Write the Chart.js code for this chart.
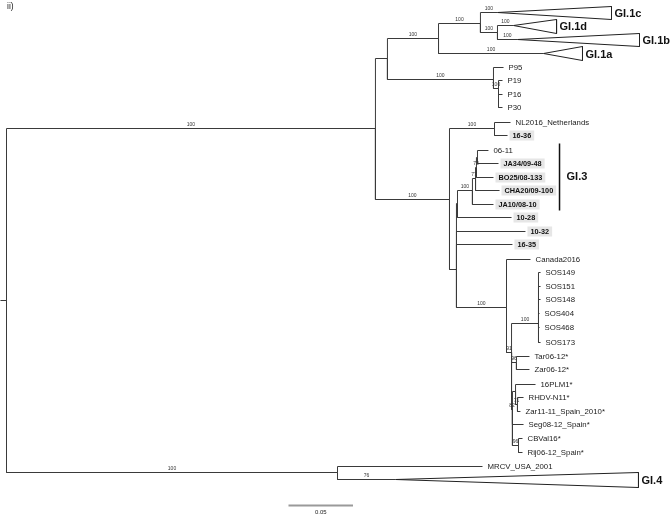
<!DOCTYPE html>
<html>
<head>
<meta charset="utf-8">
<script src="https://cdn.jsdelivr.net/npm/chart.js@4.4.1/dist/chart.umd.min.js"></script>
<style>
  body { margin: 0; background: #fff; }
  canvas { display: block; }
</style>
</head>
<body>
<canvas id="tree" width="670" height="516"></canvas>
<script>
// tips: name, parent node, distance from root (subst./site), row position
const tipNames = ['P95', 'P19', 'P16', 'P30', 'NL2016_Netherlands', '16-36', '06-11', 'JA34/09-48',
    'BO25/08-133', 'CHA20/09-100', 'JA10/08-10', '10-28', '10-32', '16-35', 'Canada2016',
    'SOS149', 'SOS151', 'SOS148', 'SOS404', 'SOS468', 'SOS173', 'Tar06-12*', 'Zar06-12*',
    '16PLM1*', 'RHDV-N11*', 'Zar11-11_Spain_2010*', 'Seg08-12_Spain*', 'CBVal16*',
    'Rij06-12_Spain*', 'MRCV_USA_2001'];
const tipParent = ['P', 'Pb', 'Pb', 'Pb', 'NL', 'NL', 'm0611', 'm0611', 'n72', 'n77', 'n100', 'G2',
    'N3', 'N3', 'N4', 'SOS', 'SOS', 'SOS', 'SOS', 'SOS', 'SOS', 'N6', 'N6', 'Nx', 'N9', 'N9',
    'N8', 'N10', 'N10', 'G4'];
const tipDist = [0.3853, 0.3845, 0.3845, 0.3845, 0.3907, 0.3884, 0.3736, 0.3814, 0.3775, 0.3822,
    0.3775, 0.3915, 0.4023, 0.3922, 0.4062, 0.4140, 0.4140, 0.4140, 0.4132, 0.4132, 0.4140,
    0.4054, 0.4054, 0.4101, 0.4008, 0.3984, 0.4008, 0.4000, 0.4000, 0.3690];
const tipRow = [67, 80, 94, 107, 122, 135, 150, 163, 177, 190, 204, 217, 231, 244, 259, 272, 286,
    299, 313, 327, 342, 356, 369, 384, 397, 411, 424, 438, 452, 466];
const boldTips = ['16-36', 'JA34/09-48', 'BO25/08-133', 'CHA20/09-100', 'JA10/08-10', '10-28', '10-32', '16-35'];

// internal nodes
const nodeNames = ['root', 'N1', 'N1a', 'GI1', 'GI1cd', 'GI1db', 'P', 'Pb', 'N2', 'NL', 'N3', 'G2',
    'n100', 'n77', 'n72', 'm0611', 'N4', 'N5', 'SOS', 'N6', 'N8', 'Nx', 'N9', 'N10', 'G4'];
const nodeParent = [null, 'root', 'N1', 'N1a', 'GI1', 'GI1cd', 'N1a', 'P', 'N1', 'N2', 'N2', 'N3',
    'G2', 'n100', 'n77', 'n72', 'N3', 'N4', 'N5', 'N5', 'N5', 'N8', 'Nx', 'N8', 'root'];
const nodeDist = [0, 0.2860, 0.2953, 0.3349, 0.3674, 0.3806, 0.3775, 0.3814, 0.3434, 0.3783, 0.3488,
    0.3496, 0.3612, 0.3636, 0.3643, 0.3651, 0.3876, 0.3915, 0.4124, 0.3953, 0.3922, 0.3946,
    0.3961, 0.3969, 0.2566];
const nodeRow = [300, 128, 58, 38, 23, 32, 79, 88, 199, 128, 269, 203, 190, 178, 167, 157, 307, 352,
    323, 362, 409, 391, 404, 445, 472];
const nodeSupport = [null, 100, null, 100, 100, 100, 100, 100, 100, 100, null, null, 100, 77, 72,
    null, 100, 91, 100, 96, 82, null, 71, 96, 100];

// collapsed clades (triangles)
const cladeNames = ['GI.1c', 'GI.1d', 'GI.1b', 'GI.1a', 'GI.4'];
const cladeParent = ['GI1cd', 'GI1db', 'GI1db', 'GI1', 'G4'];
const cladeDist = [0.3806, 0.3930, 0.3961, 0.4163, 0.3016];
const cladeDepth = [0.4690, 0.4264, 0.4907, 0.4465, 0.4899];
const cladeRow = [12, 25, 39, 53, 479];
const cladeTop = [6, 19, 33, 46, 472];
const cladeBottom = [19, 33, 46, 60, 487];
const cladeSupport = [100, 100, 100, 100, 76];

// GI.3 bracket, root stub, scale bar
const gi3Dist = 0.4287;
const gi3Rows = [143, 210];
const rootStub = -0.0047;
const scaleBarStart = 0.2186;
const scaleBarLength = 0.05;
const scaleBarRow = 505;

const nodeIndex = {};
nodeNames.forEach((n, i) => nodeIndex[n] = i);

function parentPos(name) {
    const i = nodeIndex[name];
    return { d: nodeDist[i], r: nodeRow[i] };
}

const branchData = [];
function elbow(pd, pr, cd, cr) {
    branchData.push({ x: pd, y: pr }, { x: pd, y: cr }, { x: cd, y: cr }, { x: pd, y: null });
}

branchData.push({ x: rootStub, y: nodeRow[0] }, { x: 0, y: nodeRow[0] }, { x: 0, y: null });
nodeNames.forEach((n, i) => {
    if (nodeParent[i] === null) return;
    const p = parentPos(nodeParent[i]);
    elbow(p.d, p.r, nodeDist[i], nodeRow[i]);
});
tipNames.forEach((n, i) => {
    const p = parentPos(tipParent[i]);
    elbow(p.d, p.r, tipDist[i], tipRow[i]);
});
cladeNames.forEach((n, i) => {
    const p = parentPos(cladeParent[i]);
    elbow(p.d, p.r, cladeDist[i], cladeRow[i]);
});

const triangleData = [];
cladeNames.forEach((n, i) => {
    triangleData.push(
        { x: cladeDist[i], y: cladeRow[i] },
        { x: cladeDepth[i], y: cladeTop[i] },
        { x: cladeDepth[i], y: cladeBottom[i] },
        { x: cladeDist[i], y: cladeRow[i] },
        { x: cladeDist[i], y: null });
});

const FONT = '"Liberation Sans", Arial, sans-serif';

const labelPlugin = {
    id: 'treeLabels',
    afterDatasetsDraw(chart) {
        const ctx = chart.ctx;
        const xs = chart.scales.x, ys = chart.scales.y;
        const px = d => xs.getPixelForValue(d);
        const py = r => ys.getPixelForValue(r);
        ctx.save();
        ctx.textBaseline = 'middle';

        // tip labels
        tipNames.forEach((n, i) => {
            const x = px(tipDist[i]) + 5, y = py(tipRow[i]);
            if (boldTips.includes(n)) {
                ctx.font = 'bold 7.3px ' + FONT;
                const w = ctx.measureText(n).width;
                ctx.fillStyle = '#e6e6e6';
                ctx.fillRect(x - 3, y - 5, w + 6, 10);
                ctx.fillStyle = '#111';
                ctx.fillText(n, x, y + 0.5);
            } else {
                ctx.font = '7.8px ' + FONT;
                ctx.fillStyle = '#222';
                ctx.fillText(n, x, y + 0.5);
            }
        });

        // support values, centred above each branch
        ctx.font = '5px ' + FONT;
        ctx.fillStyle = '#333';
        ctx.textAlign = 'center';
        nodeNames.forEach((n, i) => {
            if (nodeSupport[i] === null) return;
            const p = parentPos(nodeParent[i]);
            ctx.fillText(String(nodeSupport[i]), (px(p.d) + px(nodeDist[i])) / 2, py(nodeRow[i]) - 4);
        });
        cladeNames.forEach((n, i) => {
            const p = parentPos(cladeParent[i]);
            ctx.fillText(String(cladeSupport[i]), (px(p.d) + px(cladeDist[i])) / 2, py(cladeRow[i]) - 4);
        });

        // clade names
        ctx.textAlign = 'left';
        ctx.font = 'bold 11px ' + FONT;
        ctx.fillStyle = '#111';
        cladeNames.forEach((n, i) => {
            ctx.fillText(n, px(cladeDepth[i]) + 3, py(cladeRow[i]) + 1);
        });
        ctx.fillText('GI.3', px(gi3Dist) + 7, py((gi3Rows[0] + gi3Rows[1]) / 2));

        // panel tag and scale bar label
        ctx.font = '8.5px ' + FONT;
        ctx.fillStyle = '#222';
        ctx.fillText('ii)', 7, 7);
        ctx.font = '6px ' + FONT;
        ctx.textAlign = 'center';
        ctx.fillText(String(scaleBarLength), px(scaleBarStart + scaleBarLength / 2), py(scaleBarRow + 7));
        ctx.restore();
    }
};

new Chart(document.getElementById('tree'), {
    type: 'scatter',
    data: {
        datasets: [
            {
                data: branchData, showLine: true, borderColor: '#3a3a3a', borderWidth: 1,
                pointRadius: 0, spanGaps: false
            },
            {
                data: triangleData, showLine: true, borderColor: '#222', borderWidth: 1,
                pointRadius: 0, spanGaps: false
            },
            {
                data: [{ x: gi3Dist, y: gi3Rows[0] }, { x: gi3Dist, y: gi3Rows[1] }],
                showLine: true, borderColor: '#111', borderWidth: 1.5, pointRadius: 0
            },
            {
                data: [{ x: scaleBarStart, y: scaleBarRow }, { x: scaleBarStart + scaleBarLength, y: scaleBarRow }],
                showLine: true, borderColor: '#9a9a9a', borderWidth: 2, pointRadius: 0
            }
        ]
    },
    options: {
        responsive: false,
        animation: false,
        events: [],
        layout: { padding: 0 },
        scales: {
            // offsets by half a pixel so 1px branches stay crisp
            x: { type: 'linear', display: false, min: -0.00504, max: 0.51434 },
            y: { type: 'linear', display: false, min: -0.5, max: 515.5, reverse: true }
        },
        plugins: {
            legend: { display: false },
            tooltip: { enabled: false }
        }
    },
    plugins: [labelPlugin]
});
</script>
</body>
</html>
